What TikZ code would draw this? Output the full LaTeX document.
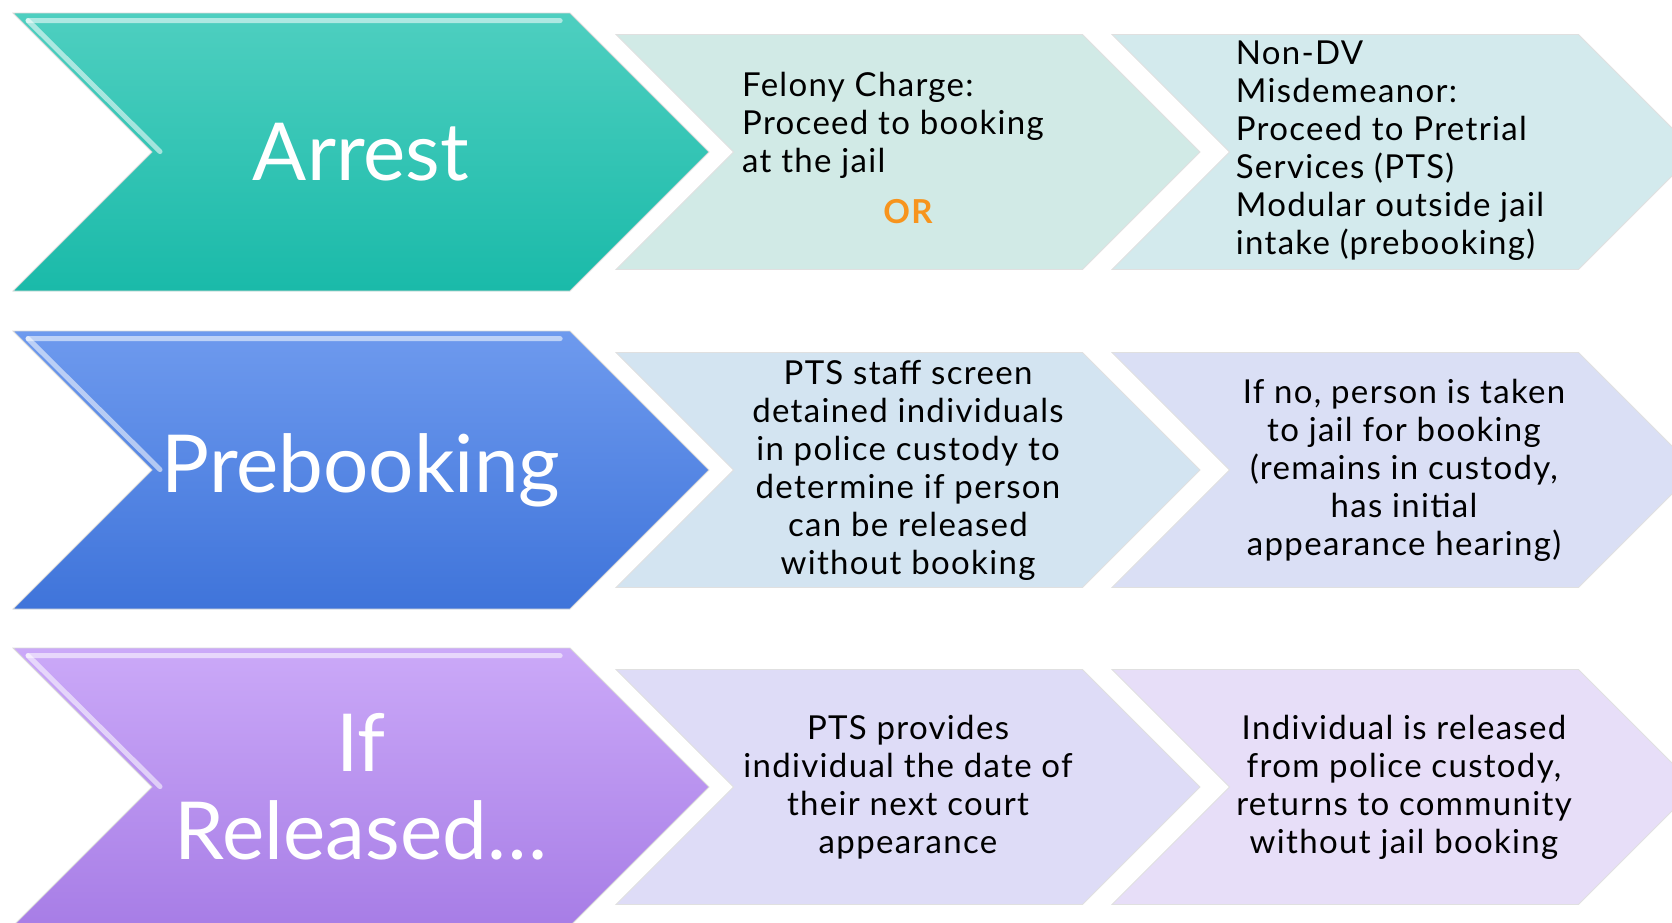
\documentclass[tikz,border=0pt]{standalone}
\usepackage{fontspec}
\setmainfont{Lato}
\usetikzlibrary{shapes.symbols}
\definecolor{tealT}{HTML}{4ECFC0}
\definecolor{tealB}{HTML}{1ABAA9}
\definecolor{blueT}{HTML}{6E9AEE}
\definecolor{blueB}{HTML}{3F74DA}
\definecolor{violT}{HTML}{CBA9F8}
\definecolor{violB}{HTML}{A77DE6}
\definecolor{orOrange}{HTML}{F7941D}
\definecolor{pale1}{HTML}{D1EAE6}
\definecolor{pale2}{HTML}{D3EAED}
\definecolor{pale3}{HTML}{D3E4F1}
\definecolor{pale4}{HTML}{DADFF5}
\definecolor{pale5}{HTML}{DEDCF7}
\definecolor{pale6}{HTML}{E7DEF8}
\tikzset{
    CH1/.style ={signal, signal from=west, signal to=east, minimum width=348pt, minimum height=139pt, inner sep=0pt, draw=black!15, line width=0.4pt, text=white, font=\fontsize{40}{44}\selectfont, align=center},
    CH2/.style ={signal, signal from=west, signal to=east, minimum width=292pt, minimum height=117.5pt, inner sep=0pt, draw=black!12, line width=0.4pt, font=\fontsize{16.5}{19}\selectfont\addfontfeature{LetterSpace=4}, align=center},
    HL/.style ={white, opacity=0.55, line width=2.5pt, line cap=round}}

\begin{document}
\begin{tikzpicture}[x=0.5pt,y=-0.5pt]
        \clip (0,0) rectangle (1672,922);
        % stages
        \node[CH1, top color=tealT, bottom color=tealB] (1) at (361,152) {Arrest};
        \node[CH1, top color=blueT, bottom color=blueB] (4) at (361,470) {Prebooking};
        \node[CH1, top color=violT, bottom color=violB] (7) at (361,787) {If\\Released…};
        \foreach \n in {1,4,7}{
            \draw[HL] ([shift={(16,8)}]\n.north west) -- ([shift={(-10,8)}]\n.north east);
            \draw[HL] ([shift={(16,8)}]\n.north west) -- ([shift={(148,139)}]\n.north west);}
        % first row
        \node[CH2, fill=pale1] (2) at (908,152) {\begin{tabular}{@{}l@{}}Felony Charge:\\Proceed to booking\\at the jail\\[6.5pt]\multicolumn{1}{@{}c@{}}{\hspace*{15pt}\textcolor{orOrange}{\bfseries OR}}\end{tabular}\hspace*{15pt}};
        \node[CH2, fill=pale2] (3) at (1404,152) {\begin{tabular}{@{}l@{}}Non-DV\\Misdemeanor:\\Proceed to Pretrial\\Services (PTS)\\Modular outside jail\\intake (prebooking)\end{tabular}\hspace*{14pt}};
        % second row
        \node[CH2, fill=pale3] (5) at (908,470) {PTS staff screen\\detained individuals\\in police custody to\\determine if person\\can be released\\without booking};
        \node[CH2, fill=pale4] (6) at (1404,470) {If no, person is taken\\to jail for booking\\(remains in custody,\\has initial\\appearance hearing)};
        % third row
        \node[CH2, fill=pale5] (8) at (908,787) {PTS provides\\individual the date of\\their next court\\appearance};
        \node[CH2, fill=pale6] (9) at (1404,787) {Individual is released\\from police custody,\\returns to community\\without jail booking};
    \end{tikzpicture}
\end{document}
